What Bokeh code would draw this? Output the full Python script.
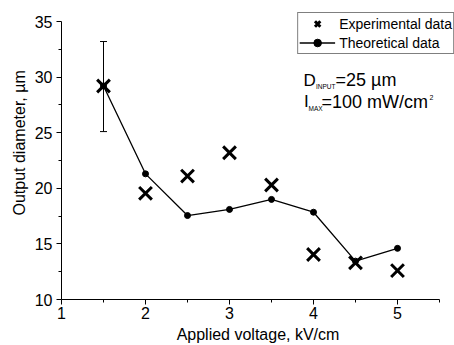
import math
from bokeh.plotting import figure
from bokeh.models import (ColumnDataSource, Range1d, FixedTicker, Legend, LegendItem,
                          Whisker, TeeHead, Label, Title)
from bokeh.embed import file_html
from bokeh.resources import INLINE

# ---- data ----
voltage = [1.5, 2.0, 2.5, 3.0, 3.5, 4.0, 4.5, 5.0]
experimental = [29.2, 19.55, 21.1, 23.2, 20.3, 14.05, 13.3, 12.6]
theoretical = [29.2, 21.3, 17.55, 18.1, 19.0, 17.85, 13.45, 14.6]
err_x = [1.5]
err_lower = [25.1]
err_upper = [33.2]

x_ticks = [1, 2, 3, 4, 5]
x_minor = [1.5, 2.5, 3.5, 4.5, 5.5]
y_ticks = [10, 15, 20, 25, 30, 35]
y_minor = [12.5, 17.5, 22.5, 27.5, 32.5]

FONT = "Liberation Sans"

W, H = 454, 345
LEFT, RIGHT, TOP, BOTTOM = 61, 0, 12, 46
frame_w = W - LEFT - RIGHT
frame_h = H - TOP - BOTTOM
px_per_x = 84.0
px_per_y = (frame_h - 9) / 25.0

p = figure(width=W, height=H, output_backend="svg", toolbar_location=None,
           x_range=Range1d(1, 1 + frame_w / px_per_x),
           y_range=Range1d(10, 10 + frame_h / px_per_y),
           min_border_left=LEFT, min_border_right=RIGHT,
           min_border_top=TOP, min_border_bottom=BOTTOM)
p.outline_line_color = None
p.grid.visible = False
p.background_fill_color = "white"
p.border_fill_color = "white"

for ax, ticks, minor, bnds in ((p.xaxis[0], x_ticks, x_minor, (1, 5.5)),
                               (p.yaxis[0], y_ticks, y_minor, (10, 35))):
    ax.ticker = FixedTicker(ticks=ticks, minor_ticks=minor)
    ax.bounds = bnds
    ax.axis_line_color = "black"
    ax.axis_line_width = 1
    ax.major_tick_line_color = "black"
    ax.minor_tick_line_color = "black"
    ax.major_tick_in = 0
    ax.major_tick_out = 5
    ax.minor_tick_in = 0
    ax.minor_tick_out = 3
    ax.major_label_text_font = FONT
    ax.major_label_text_font_size = "16px"
    ax.major_label_text_color = "black"
p.xaxis.major_label_standoff = 2
p.yaxis.major_label_standoff = 4

p.xaxis.axis_label = "Applied voltage, kV/cm"
p.xaxis.axis_label_text_font = FONT
p.xaxis.axis_label_text_font_size = "16px"
p.xaxis.axis_label_text_font_style = "normal"
p.xaxis.axis_label_text_color = "black"
p.xaxis.axis_label_standoff = 4

ytitle = Title(text="Output diameter, µm", align="left", offset=84, standoff=8,
               text_font=FONT, text_font_size="16px", text_font_style="normal",
               text_color="black")
p.add_layout(ytitle, "left")

src = ColumnDataSource(dict(v=voltage, e=experimental, t=theoretical))
line_r = p.line("v", "t", source=src, line_color="black", line_width=1.3)
dot_r = p.scatter("v", "t", source=src, marker="circle", size=6,
                  fill_color="black", line_color="black")
x_r = p.scatter("v", "e", source=src, marker="x", size=18,
                line_color="black", line_width=3)

esrc = ColumnDataSource(dict(x=err_x, lo=err_lower, up=err_upper))
wh = Whisker(base="x", lower="lo", upper="up", source=esrc, dimension="height",
             line_color="black", line_width=1,
             upper_head=TeeHead(size=7, line_color="black", line_width=1),
             lower_head=TeeHead(size=7, line_color="black", line_width=1))
p.add_layout(wh)

legend = Legend(items=[LegendItem(label="Experimental data", renderers=[x_r]),
                       LegendItem(label="Theoretical data", renderers=[line_r, dot_r])],
                location="top_right", margin=0, padding=1, spacing=0,
                glyph_width=36, glyph_height=19, label_height=18, label_standoff=4,
                label_text_font=FONT, label_text_font_size="14px",
                label_text_color="black",
                border_line_color="black", border_line_width=1,
                background_fill_color="white", background_fill_alpha=1)
p.add_layout(legend)

# frame origin (canvas coords): left=LEFT, bottom=H-BOTTOM
FB = H - BOTTOM


def lab(text, cx, cy, size, align="left", baseline="alphabetic"):
    p.add_layout(Label(x=cx - LEFT, y=FB - cy, x_units="screen", y_units="screen",
                       text=text, text_font=FONT, text_font_size=size,
                       text_color="black", text_align=align, text_baseline=baseline))


# annotations
lab("D", 303, 79.5, "17px")
lab("INPUT", 315.5, 86, "6.5px")
lab("=25 µm", 335, 79.5, "18px")
lab("I", 303.5, 101, "17px")
lab("MAX", 308, 107.7, "6.5px")
lab("=100 mW/cm", 321, 101, "18px")
lab("2", 429, 96.5, "7px")

open("out.html", "w").write(file_html(p, INLINE))
